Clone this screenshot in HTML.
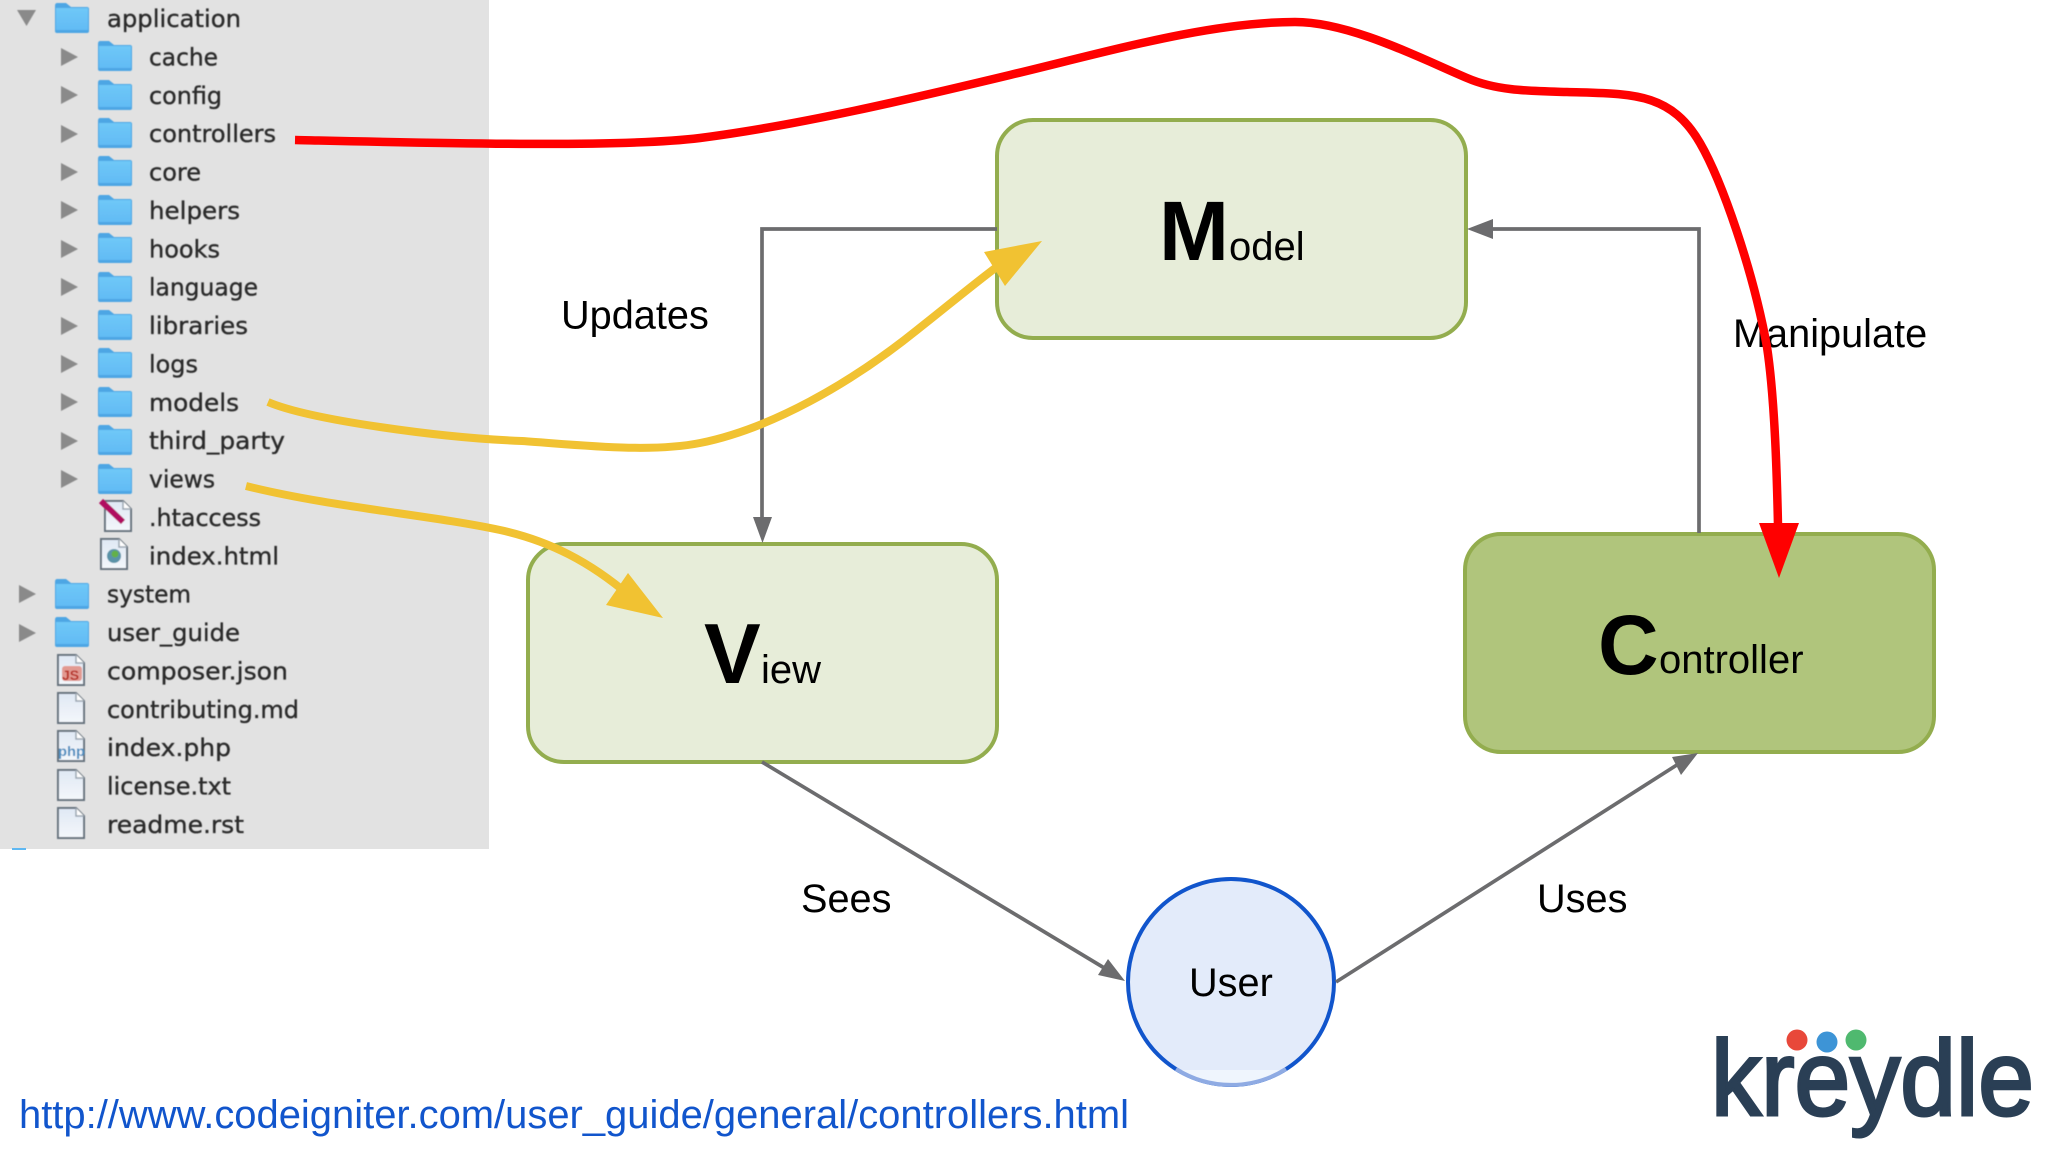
<!DOCTYPE html>
<html><head><meta charset="utf-8"><style>
html,body{margin:0;padding:0;background:#fff;width:2048px;height:1152px;overflow:hidden}
svg{display:block}
</style></head><body>
<svg xmlns="http://www.w3.org/2000/svg" width="2048" height="1152" viewBox="0 0 2048 1152">
<defs>
<filter id="b" x="-2%" y="-2%" width="104%" height="104%"><feGaussianBlur stdDeviation="0.6"/></filter>
<linearGradient id="fg" x1="0" y1="0" x2="0" y2="1"><stop offset="0" stop-color="#6fc8f8"/><stop offset="1" stop-color="#62bbf4"/></linearGradient>
<linearGradient id="pg" x1="0" y1="0" x2="0" y2="1"><stop offset="0" stop-color="#dfe8f4"/><stop offset="1" stop-color="#f4f7fb"/></linearGradient>
<g id="folder"><path d="M0 3Q0 0 2 0H11L16 4H32Q34 4 34 6V28Q34 30 32 30H2Q0 30 0 28Z" fill="#4da6e4"/><path d="M1 5H33V27H1Z" fill="url(#fg)"/></g>
<path id="arr" d="M0 0L17 9L0 18Z" fill="#8a8a8a"/>
<g id="file"><path d="M1 1H19L27 9V31H1Z" fill="url(#pg)" stroke="#66727e" stroke-width="2"/><path d="M19 1V9H27" fill="#fff" stroke="#9aa5b0" stroke-width="1.5"/></g>
</defs>

<rect x="0" y="0" width="489" height="849" fill="#e2e2e2"/>
<rect x="12" y="848" width="14" height="2" fill="#5fb8f2"/>

<g filter="url(#b)">
<path d="M17 10H36L26.500 26Z" fill="#8a8a8a"/>
<use href="#folder" x="55" y="3"/>
<use href="#arr" x="61" y="48"/><use href="#folder" x="98" y="41"/>
<use href="#arr" x="61" y="86"/><use href="#folder" x="98" y="80"/>
<use href="#arr" x="61" y="125"/><use href="#folder" x="98" y="118"/>
<use href="#arr" x="61" y="163"/><use href="#folder" x="98" y="156"/>
<use href="#arr" x="61" y="201"/><use href="#folder" x="98" y="195"/>
<use href="#arr" x="61" y="240"/><use href="#folder" x="98" y="233"/>
<use href="#arr" x="61" y="278"/><use href="#folder" x="98" y="272"/>
<use href="#arr" x="61" y="317"/><use href="#folder" x="98" y="310"/>
<use href="#arr" x="61" y="355"/><use href="#folder" x="98" y="348"/>
<use href="#arr" x="61" y="393"/><use href="#folder" x="98" y="387"/>
<use href="#arr" x="61" y="432"/><use href="#folder" x="98" y="425"/>
<use href="#arr" x="61" y="470"/><use href="#folder" x="98" y="464"/>

<use href="#file" x="104" y="500"/>
<path d="M101 501L123 522" stroke="#b01060" stroke-width="6"/>
<use href="#file" x="100" y="538"/>
<circle cx="114" cy="556" r="7" fill="#5a93a8"/><circle cx="115" cy="554" r="3.500" fill="#63b04a"/>

<use href="#arr" x="19" y="585"/><use href="#folder" x="55" y="579"/>
<use href="#arr" x="19" y="624"/><use href="#folder" x="55" y="617"/>

<use href="#file" x="57" y="654"/>
<rect x="62" y="666" width="20" height="15" rx="3" fill="#e29a92"/>
<text x="62" y="680" font-family="'Liberation Sans',sans-serif" font-size="14" font-weight="700" fill="#b8352a">JS</text>
<use href="#file" x="57" y="692"/>
<use href="#file" x="57" y="730"/>
<text x="58" y="756" font-family="'Liberation Sans',sans-serif" font-size="14" font-weight="700" fill="#4f8fc0" textLength="27" lengthAdjust="spacingAndGlyphs">php</text>
<use href="#file" x="57" y="769"/>
<use href="#file" x="57" y="807"/>

<g font-family="'DejaVu Sans',sans-serif" font-size="24" fill="#2a2a2a" stroke="#2a2a2a" stroke-width="0.35">
<text x="107" y="27" textLength="134" lengthAdjust="spacingAndGlyphs">application</text>
<text x="149" y="65.400" textLength="69" lengthAdjust="spacingAndGlyphs">cache</text>
<text x="149" y="103.800" textLength="73" lengthAdjust="spacingAndGlyphs">config</text>
<text x="149" y="142.100" textLength="127" lengthAdjust="spacingAndGlyphs">controllers</text>
<text x="149" y="180.500" textLength="52" lengthAdjust="spacingAndGlyphs">core</text>
<text x="149" y="218.900" textLength="91" lengthAdjust="spacingAndGlyphs">helpers</text>
<text x="149" y="257.300" textLength="71" lengthAdjust="spacingAndGlyphs">hooks</text>
<text x="149" y="295.700" textLength="109" lengthAdjust="spacingAndGlyphs">language</text>
<text x="149" y="334" textLength="99" lengthAdjust="spacingAndGlyphs">libraries</text>
<text x="149" y="372.400" textLength="49" lengthAdjust="spacingAndGlyphs">logs</text>
<text x="149" y="410.800" textLength="90" lengthAdjust="spacingAndGlyphs">models</text>
<text x="149" y="449.200" textLength="136" lengthAdjust="spacingAndGlyphs">third_party</text>
<text x="149" y="487.600" textLength="66" lengthAdjust="spacingAndGlyphs">views</text>
<text x="149" y="525.900" textLength="112" lengthAdjust="spacingAndGlyphs">.htaccess</text>
<text x="149" y="564.300" textLength="130" lengthAdjust="spacingAndGlyphs">index.html</text>
<text x="107" y="602.700" textLength="84" lengthAdjust="spacingAndGlyphs">system</text>
<text x="107" y="641.100" textLength="133" lengthAdjust="spacingAndGlyphs">user_guide</text>
<text x="107" y="679.500" textLength="181" lengthAdjust="spacingAndGlyphs">composer.json</text>
<text x="107" y="717.800" textLength="192" lengthAdjust="spacingAndGlyphs">contributing.md</text>
<text x="107" y="756.200" textLength="124" lengthAdjust="spacingAndGlyphs">index.php</text>
<text x="107" y="794.600" textLength="124" lengthAdjust="spacingAndGlyphs">license.txt</text>
<text x="107" y="833" textLength="137" lengthAdjust="spacingAndGlyphs">readme.rst</text>
</g>
</g>

<!-- boxes -->
<rect x="997" y="120" width="469" height="218" rx="36" fill="#e7edd9" stroke="#93ad4e" stroke-width="4"/>
<rect x="528" y="544" width="469" height="218" rx="36" fill="#e7edd9" stroke="#93ad4e" stroke-width="4"/>
<rect x="1465" y="534" width="469" height="218" rx="36" fill="#b0c57c" stroke="#93ad4e" stroke-width="4"/>

<!-- user -->
<circle cx="1231" cy="982" r="103" fill="#e3ebfa" stroke="#1155cc" stroke-width="4"/>
<path d="M1176 1070A103 103 0 0 0 1286 1070Z" fill="#eff5fd"/>
<path d="M1176 1069A103 103 0 0 0 1286 1069" fill="none" stroke="#8fabe3" stroke-width="4"/>

<!-- gray connectors -->
<g fill="none" stroke="#6c6c6e" stroke-width="3.700">
<path d="M997 229H762V520"/>
<path d="M1699 533V229H1490"/>
<path d="M762 762L1106 969"/>
<path d="M1336 982L1680 763"/>
</g>
<g fill="#6c6c6e">
<path d="M753 517H772L762.500 543Z"/>
<path d="M1467 229L1493 219V239Z"/>
<path d="M1125 981L1098 975L1108 959Z"/>
<path d="M1698 753L1672 757L1681 775Z"/>
</g>

<!-- labels -->
<g font-family="'Liberation Sans',Arial,sans-serif" fill="#000">
<text x="561" y="328.500" font-size="39.700">Updates</text>
<text x="1733" y="347" font-size="39.700">Manipulate</text>
<text x="801" y="912" font-size="39.700">Sees</text>
<text x="1537" y="912" font-size="39.700">Uses</text>
<text x="1189" y="996" font-size="39.700">User</text>
<text x="1159" y="260" font-size="84" font-weight="700">M</text><text x="1229" y="260" font-size="40">odel</text>
<text x="704" y="683" font-size="85" font-weight="700">V</text><text x="761" y="683" font-size="40">iew</text>
<text x="1598" y="674" font-size="84" font-weight="700">C</text><text x="1659" y="673" font-size="40">ontroller</text>
<text x="19" y="1128" font-size="40" fill="#1155cc" textLength="1110" lengthAdjust="spacingAndGlyphs">http://www.codeigniter.com/user_guide/general/controllers.html</text>
</g>

<!-- red curve -->
<path d="M295 140C430 143 620 148 700 138C800 125 910 99 1010 75C1110 51 1210 22 1295 22C1350 22 1420 58 1467 78C1497 91 1530 91 1567 92C1630 94 1670 91 1700 143C1722 181 1753 270 1767 347C1775 400 1777 480 1778 525" fill="none" stroke="#ff0000" stroke-width="8.500"/>
<path d="M1759 523H1799L1779 578Z" fill="#ff0000"/>

<!-- yellow curves -->
<path d="M268 402C310 420 442 438 522 441C580 445 650 453 700 443C770 429 850 384 917 330C945 308 975 283 998 266" fill="none" stroke="#f1c232" stroke-width="8"/>
<path d="M1042 241L984 252L1005 286Z" fill="#f1c232"/>
<path d="M246 486C330 507 430 515 500 530C550 541 590 562 630 596" fill="none" stroke="#f1c232" stroke-width="8"/>
<path d="M663 618L628 573L606 605Z" fill="#f1c232"/>

<!-- logo -->
<text x="1711" y="1115" font-family="'Liberation Sans',sans-serif" font-size="107" fill="#2a3f55" stroke="#2a3f55" stroke-width="3" textLength="323" lengthAdjust="spacingAndGlyphs">kreydle</text>
<circle cx="1797" cy="1040" r="10.500" fill="#e8483a"/>
<circle cx="1827" cy="1042" r="10.500" fill="#3d94d6"/>
<circle cx="1856" cy="1040" r="10.500" fill="#4fb96f"/>
</svg>
</body></html>
